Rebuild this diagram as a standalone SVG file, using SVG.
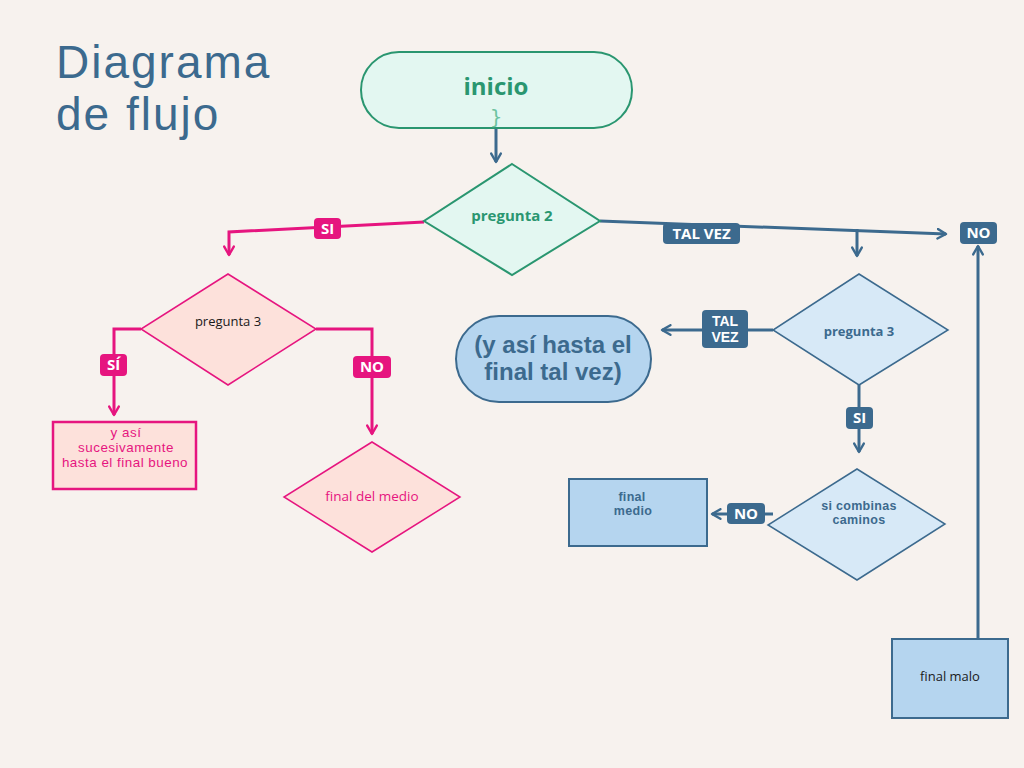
<svg xmlns="http://www.w3.org/2000/svg" width="1024" height="768" viewBox="0 0 1024 768">
<defs>
<style>
.bg{fill:#F7F2EE}
.title{font-family:"Liberation Sans",Arial,sans-serif;font-size:46px;letter-spacing:2px;fill:#3C6A8E}
.lbl{font-family:"Open Sans",Lato,sans-serif;font-weight:700;font-size:15px;fill:#ffffff;text-anchor:middle}
.lbl2{font-family:"Liberation Sans",Arial,sans-serif;font-weight:700;font-size:14px;fill:#ffffff;text-anchor:middle}
.pinkc{stroke:#E6157F;stroke-width:3;fill:none}
.bluec{stroke:#3C6A8E;stroke-width:3;fill:none}
.pinkbox{fill:#E6157F}
.bluebox{fill:#3C6A8E}
.gshape{fill:#E3F7F1;stroke:#2A9670;stroke-width:2}
.pshape{fill:#FDE1DB;stroke:#E6157F;stroke-width:1.5}
.bshape{fill:#D7E9F7;stroke:#3C6A8E;stroke-width:1.5}
.bbox{fill:#B5D5EF;stroke:#3C6A8E;stroke-width:2}
.gt{font-family:"Open Sans",Lato,sans-serif;font-weight:700;fill:#2A9670;text-anchor:middle}
.pt{font-family:"Open Sans",Lato,sans-serif;font-size:13.5px;fill:#E6157F;text-anchor:middle}
.pt2{font-family:"Liberation Sans",Arial,sans-serif;font-size:13.4px;letter-spacing:0.5px;fill:#E6157F;text-anchor:middle}
.bt{font-family:"Open Sans",Lato,sans-serif;font-weight:700;font-size:13px;fill:#3C6A8E;text-anchor:middle}
.bt2{font-family:"Liberation Sans",Arial,sans-serif;font-weight:700;font-size:12.5px;letter-spacing:0.3px;fill:#3C6A8E;text-anchor:middle}
.big{font-family:"Liberation Sans",Arial,sans-serif;font-weight:700;font-size:24px;fill:#3C6A8E;text-anchor:middle}
.kt{font-family:"Open Sans",Lato,sans-serif;font-size:13px;fill:#1A1A1A;text-anchor:middle}
</style>
<marker id="ap" viewBox="0 0 10 10" refX="8" refY="5" markerWidth="12" markerHeight="12" markerUnits="userSpaceOnUse" orient="auto">
<path d="M1,1 L8,5 L1,9" fill="none" stroke="#E6157F" stroke-width="2" stroke-linecap="round" stroke-linejoin="round"/>
</marker>
<marker id="ab" viewBox="0 0 10 10" refX="8" refY="5" markerWidth="12" markerHeight="12" markerUnits="userSpaceOnUse" orient="auto">
<path d="M1,1 L8,5 L1,9" fill="none" stroke="#3C6A8E" stroke-width="2" stroke-linecap="round" stroke-linejoin="round"/>
</marker>
</defs>
<rect class="bg" x="0" y="0" width="1024" height="768"/>

<g id="title">
<text class="title" x="56" y="78">Diagrama</text>
<text class="title" x="56" y="130">de flujo</text>
</g>

<g id="connectors">
<line class="bluec" x1="496" y1="128" x2="496" y2="162" marker-end="url(#ab)"/>
<polyline class="pinkc" points="424,222 229,232 229,255" marker-end="url(#ap)"/>
<polyline class="pinkc" points="141,329 114,329 114,415" marker-end="url(#ap)"/>
<polyline class="pinkc" points="316,329 372,329 372,434" marker-end="url(#ap)"/>
<line class="bluec" x1="600" y1="221" x2="946" y2="234" marker-end="url(#ab)"/>
<line class="bluec" x1="857" y1="229" x2="857" y2="256" marker-end="url(#ab)"/>
<line class="bluec" x1="978" y1="639" x2="978" y2="246" marker-end="url(#ab)"/>
<line class="bluec" x1="773" y1="330" x2="662" y2="330" marker-end="url(#ab)"/>
<line class="bluec" x1="859" y1="385" x2="859" y2="452" marker-end="url(#ab)"/>
<line class="bluec" x1="773" y1="514" x2="712" y2="514" marker-end="url(#ab)"/>
</g>

<g id="labels">
<rect class="pinkbox" x="314" y="218" width="27" height="21" rx="4"/>
<text class="lbl" x="327.5" y="234">SI</text>
<rect class="pinkbox" x="100" y="354" width="27" height="22" rx="4"/>
<text class="lbl" x="113.5" y="370">SÍ</text>
<rect class="pinkbox" x="353" y="356" width="38" height="22" rx="4"/>
<text class="lbl" x="372" y="372">NO</text>
<rect class="bluebox" x="663" y="223" width="77" height="21" rx="4"/>
<text class="lbl" x="701.5" y="239">TAL VEZ</text>
<rect class="bluebox" x="960" y="222" width="37" height="22" rx="4"/>
<text class="lbl" x="978.5" y="238">NO</text>
<rect class="bluebox" x="702" y="310" width="46" height="38" rx="4"/>
<text class="lbl2" x="725" y="326">TAL</text>
<text class="lbl2" x="725" y="342">VEZ</text>
<rect class="bluebox" x="846" y="407" width="27" height="22" rx="4"/>
<text class="lbl" x="859.5" y="423">SI</text>
<rect class="bluebox" x="727" y="503" width="38" height="21" rx="4"/>
<text class="lbl" x="746" y="519">NO</text>
</g>

<g id="inicio">
<rect class="gshape" x="361" y="52" width="271" height="76" rx="38"/>
<text class="gt" x="496" y="95" font-size="24">inicio</text>
<text x="496" y="124" font-family="'DejaVu Sans',sans-serif" font-size="20" fill="#6CC3A0" text-anchor="middle">}</text>
</g>

<g id="pregunta2">
<polygon class="gshape" stroke-width="1.5" points="512,164 600,221 512,275 424,221"/>
<text class="gt" x="512" y="221" font-size="15">pregunta 2</text>
</g>

<g id="pregunta3-rosa">
<polygon class="pshape" points="228,274 316,329 228,385 141,329"/>
<text class="kt" x="228" y="326">pregunta 3</text>
</g>

<g id="final-bueno">
<rect x="53" y="422" width="143" height="67" fill="#FDE1DB" stroke="#E6157F" stroke-width="2.5"/>
<text class="pt2" x="126" y="437">y  así</text>
<text class="pt2" x="126" y="452">sucesivamente</text>
<text class="pt2" x="125" y="467">hasta el final bueno</text>
</g>

<g id="final-del-medio">
<polygon class="pshape" points="372,442 460,497 372,552 284,497"/>
<text class="pt" x="372" y="501">final del medio</text>
</g>

<g id="pregunta3-azul">
<polygon class="bshape" points="859,274 948,330 859,385 773,330"/>
<text class="bt" x="859" y="336">pregunta 3</text>
</g>

<g id="tal-vez-final">
<rect class="bbox" x="456" y="316" width="195" height="86" rx="43"/>
<text class="big" x="553" y="353">(y así hasta el</text>
<text class="big" x="553" y="380">final tal vez)</text>
</g>

<g id="si-combinas">
<polygon class="bshape" points="857,469 945,524 857,580 768,525"/>
<text class="bt2" x="859" y="510">si combinas</text>
<text class="bt2" x="859" y="524">caminos</text>
</g>

<g id="final-medio">
<rect class="bbox" x="569" y="479" width="138" height="67"/>
<text class="bt2" x="632" y="501">final</text>
<text class="bt2" x="633" y="515">medio</text>
</g>

<g id="final-malo">
<rect class="bbox" x="892" y="639" width="116" height="79"/>
<text class="kt" x="950" y="681">final malo</text>
</g>
</svg>
